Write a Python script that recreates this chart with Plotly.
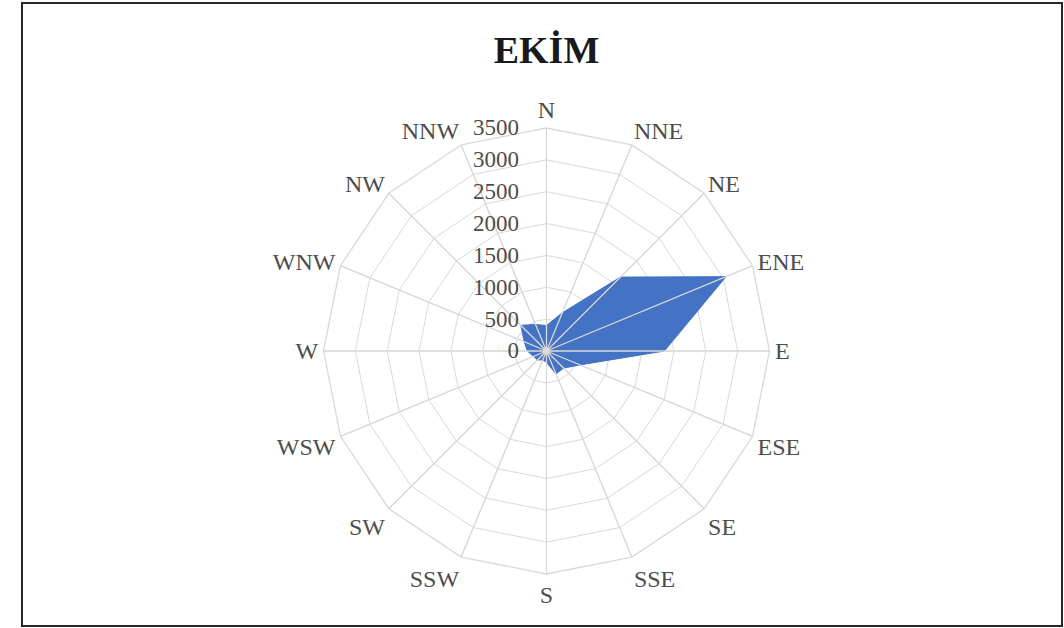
import plotly.graph_objects as go

# Wind directions (clockwise from north) and October wind counts
directions = ["N", "NNE", "NE", "ENE", "E", "ESE", "SE", "SSE",
              "S", "SSW", "SW", "WSW", "W", "WNW", "NW", "NNW"]
counts = [400, 650, 1640, 3050, 1850, 570, 380, 390,
          180, 150, 200, 220, 300, 380, 570, 450]

radial_max = 3500
radial_step = 500
tick_values = list(range(0, radial_max + 1, radial_step))

W, H = 1064, 628
cx, cy, R = 546.5, 351.0, 223.0

grid_color = "#D9D9D9"
label_color = "#4d4d4d"
font_family = "Liberation Serif, Times New Roman, serif"

fig = go.Figure()

# Filled wind-rose polygon
fig.add_trace(go.Scatterpolar(
    r=counts + [counts[0]],
    theta=directions + [directions[0]],
    mode="lines",
    fill="toself",
    fillcolor="#4472C4",
    line=dict(color="#4472C4", width=1),
    hoverinfo="skip",
    showlegend=False,
))

# Spokes drawn over the fill so they stay visible through it
spoke_r, spoke_theta = [], []
for d in directions:
    spoke_r += [0, radial_max]
    spoke_theta += [d, d]
fig.add_trace(go.Scatterpolar(
    r=spoke_r,
    theta=spoke_theta,
    mode="lines",
    line=dict(color=grid_color, width=1.3),
    hoverinfo="skip",
    showlegend=False,
))

fig.update_layout(
    width=W,
    height=H,
    margin=dict(l=0, r=0, t=0, b=0),
    paper_bgcolor="white",
    plot_bgcolor="white",
    title=dict(
        text="<b>EKİM</b>",
        x=cx / W,
        xanchor="center",
        y=1 - 50 / H,
        yanchor="middle",
        font=dict(family=font_family, size=38, color="#1a1a1a"),
    ),
    polar=dict(
        domain=dict(
            x=[(cx - R) / W, (cx + R) / W],
            y=[1 - (cy + R) / H, 1 - (cy - R) / H],
        ),
        bgcolor="white",
        gridshape="linear",
        angularaxis=dict(
            direction="clockwise",
            rotation=90,
            categoryorder="array",
            categoryarray=directions,
            showgrid=True,
            gridcolor=grid_color,
            gridwidth=1.3,
            showline=True,
            linecolor=grid_color,
            linewidth=1.3,
            ticks="",
            tickfont=dict(family=font_family, size=24, color=label_color),
        ),
        radialaxis=dict(
            range=[0, radial_max],
            tickvals=tick_values,
            angle=90,
            tickangle=90,
            side="counterclockwise",
            showgrid=True,
            gridcolor=grid_color,
            gridwidth=1.3,
            showline=False,
            # invisible ticks keep the labels clear of the north spoke
            ticks="outside",
            ticklen=19,
            tickcolor="rgba(0,0,0,0)",
            tickfont=dict(family=font_family, size=23, color=label_color),
        ),
    ),
    shapes=[dict(
        type="rect",
        xref="paper", yref="paper",
        x0=22 / W, x1=1062 / W,
        y0=1 - 626 / H, y1=1 - 3 / H,
        line=dict(color="#262626", width=2),
        fillcolor="rgba(0,0,0,0)",
    )],
)

fig.write_html("out.html")
